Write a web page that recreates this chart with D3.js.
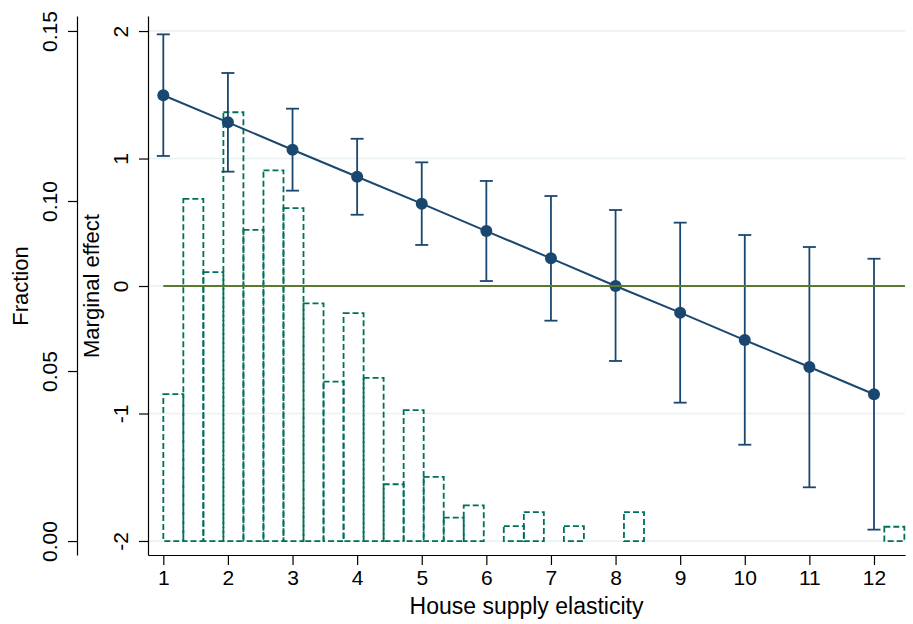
<!DOCTYPE html>
<html>
<head>
<meta charset="utf-8">
<script src="https://cdn.jsdelivr.net/npm/d3@7"></script>
<style>
  body { margin: 0; background: #fff; }
  svg { display: block; font-family: "Liberation Sans", Arial, sans-serif; }
</style>
</head>
<body>
<svg width="913" height="624"></svg>
<script>
// marginal effect by house supply elasticity
const elasticity = [1, 2, 3, 4, 5, 6, 7, 8, 9, 10, 11, 12];
const effect = [1.496, 1.284, 1.069, 0.857, 0.646, 0.431, 0.217, 0.0, -0.209, -0.424, -0.635, -0.849];
const ciLow = [1.02, 0.897, 0.748, 0.559, 0.322, 0.039, -0.272, -0.588, -0.915, -1.245, -1.579, -1.911];
const ciHigh = [1.974, 1.671, 1.391, 1.155, 0.97, 0.824, 0.706, 0.596, 0.497, 0.4, 0.306, 0.214];

// histogram of elasticity (fraction per bin)
const binStart = 1;
const binWidth = 0.31;
const fractions = [
  0.0432, 0.1006, 0.0791, 0.1261, 0.0915, 0.109, 0.0979, 0.0699,
  0.0469, 0.067, 0.048, 0.0167, 0.0385, 0.0189, 0.0069, 0.0105,
  0, 0.0044, 0.0085, 0, 0.0044, 0, 0, 0.0085,
  0, 0, 0, 0, 0, 0, 0, 0, 0, 0, 0, 0, 0.0042
];

const xTicks = [1, 2, 3, 4, 5, 6, 7, 8, 9, 10, 11, 12];
const effectTicks = [-2, -1, 0, 1, 2];
const fractionTicks = [0, 0.05, 0.1, 0.15];

const navy = "#1a476f";
const teal = "#00705a";
const olive = "#5b7a2e";
const gridColor = "#e9f1f3";

const area = { left: 148, right: 905, top: 16, bottom: 555 };
const svg = d3.select("svg");

const x = d3.scaleLinear().domain([0.763, 12.48]).range([area.left, area.right]);
const yM = d3.scaleLinear().domain([-2.11, 2.118]).range([area.bottom, area.top]);
const yF = d3.scaleLinear().domain([-0.0041, 0.1544]).range([area.bottom, area.top]);

// gridlines
svg.append("g")
  .selectAll("line")
  .data(effectTicks)
  .enter()
  .append("line")
  .attr("x1", area.left)
  .attr("x2", area.right)
  .attr("y1", (d) => yM(d))
  .attr("y2", (d) => yM(d))
  .style("stroke", gridColor)
  .style("stroke-width", 1.5);

// histogram
const bins = fractions
  .map((f, i) => ({ x0: binStart + i * binWidth, x1: binStart + (i + 1) * binWidth, f: f }))
  .filter((d) => d.f > 0);

svg.append("g")
  .selectAll("rect")
  .data(bins)
  .enter()
  .append("rect")
  .attr("x", (d) => x(d.x0))
  .attr("y", (d) => yF(d.f))
  .attr("width", (d) => x(d.x1) - x(d.x0))
  .attr("height", (d) => yF(0) - yF(d.f))
  .style("fill", "none")
  .style("stroke", teal)
  .style("stroke-width", 1.8)
  .style("stroke-dasharray", "6,3");

// confidence intervals
const ci = svg.append("g").style("stroke", navy).style("stroke-width", 1.8);
const capW = 6.5;
elasticity.forEach((e, i) => {
  ci.append("line")
    .attr("x1", x(e)).attr("x2", x(e))
    .attr("y1", yM(ciLow[i])).attr("y2", yM(ciHigh[i]));
  [ciLow[i], ciHigh[i]].forEach((v) => {
    ci.append("line")
      .attr("x1", x(e) - capW).attr("x2", x(e) + capW)
      .attr("y1", yM(v)).attr("y2", yM(v));
  });
});

// effect line and markers
const line = d3.line()
  .x((d, i) => x(elasticity[i]))
  .y((d) => yM(d));

svg.append("path")
  .datum(effect)
  .attr("d", line)
  .style("fill", "none")
  .style("stroke", navy)
  .style("stroke-width", 2);

svg.append("g")
  .selectAll("circle")
  .data(effect)
  .enter()
  .append("circle")
  .attr("cx", (d, i) => x(elasticity[i]))
  .attr("cy", (d) => yM(d))
  .attr("r", 6)
  .style("fill", navy);

// zero line
svg.append("line")
  .attr("x1", x(1))
  .attr("x2", area.right)
  .attr("y1", yM(0))
  .attr("y2", yM(0))
  .style("stroke", olive)
  .style("stroke-width", 2);

// axes
function styleAxis(g) {
  g.selectAll("path, line").style("stroke", "#000").style("stroke-width", 1.2);
  g.selectAll("text").style("fill", "#000").style("font-size", "21px")
    .style("font-family", '"Liberation Sans", Arial, sans-serif');
}

const axisX = svg.append("g")
  .attr("transform", `translate(0, ${area.bottom})`)
  .call(d3.axisBottom(x).tickValues(xTicks).tickSize(10).tickSizeOuter(0).tickPadding(5));
styleAxis(axisX);

const axisM = svg.append("g")
  .attr("transform", `translate(${area.left}, 0)`)
  .call(d3.axisLeft(yM).tickValues(effectTicks).tickSize(9).tickSizeOuter(0)
    .tickFormat((d) => String(d)));
styleAxis(axisM);
axisM.selectAll("text")
  .attr("x", 0).attr("dy", 0)
  .attr("text-anchor", "middle")
  .attr("transform", "translate(-20, 0) rotate(-90)");

const axisF = svg.append("g")
  .attr("transform", "translate(77, 0)")
  .call(d3.axisLeft(yF).tickValues(fractionTicks).tickSize(9).tickSizeOuter(0)
    .tickFormat(d3.format(".2f")));
styleAxis(axisF);
axisF.selectAll("text")
  .attr("x", 0).attr("dy", 0)
  .attr("text-anchor", "middle")
  .attr("transform", "translate(-20, 0) rotate(-90)");

// titles
svg.append("text")
  .attr("x", (area.left + area.right) / 2)
  .attr("y", 614)
  .attr("text-anchor", "middle")
  .style("font-size", "23px")
  .text("House supply elasticity");

svg.append("text")
  .attr("transform", `translate(99, ${yM(0)}) rotate(-90)`)
  .attr("text-anchor", "middle")
  .style("font-size", "22px")
  .text("Marginal effect");

svg.append("text")
  .attr("transform", `translate(28, ${yM(0)}) rotate(-90)`)
  .attr("text-anchor", "middle")
  .style("font-size", "22px")
  .text("Fraction");
</script>
</body>
</html>
